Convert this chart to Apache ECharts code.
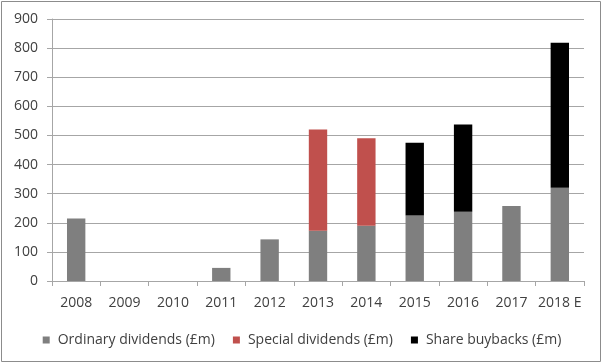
<!DOCTYPE html>
<html><head><meta charset="utf-8">
<script src="https://cdn.jsdelivr.net/npm/echarts@6/dist/echarts.min.js"></script>
<style>html,body{margin:0;padding:0;background:#fff}#c{width:604px;height:364px}</style>
</head><body><div id="c"></div>
<script>
var categories = ['2008','2009','2010','2011','2012','2013','2014','2015','2016','2017','2018 E'];
var ordinary = [215, 0, 0, 45, 143, 173, 190, 225, 238, 258, 320];
var special = [0, 0, 0, 0, 0, 347, 300, 0, 0, 0, 0];
var buybacks = [0, 0, 0, 0, 0, 0, 0, 250, 300, 0, 498];
var yTicks = [0, 100, 200, 300, 400, 500, 600, 700, 800, 900];

var font = '"Open Sans", sans-serif';
var chart = echarts.init(document.getElementById('c'), null, {renderer: 'canvas'});
chart.setOption({
  animation: false,
  backgroundColor: '#fff',
  graphic: [{type: 'rect', shape: {x: 1.5, y: 1.5, width: 599, height: 360}, style: {fill: 'none', stroke: '#8c8c8c', lineWidth: 1}, silent: true}],
  grid: {left: 52, right: 20, top: 19, bottom: 83, containLabel: false},
  legend: {
    bottom: 12, left: 'center', itemWidth: 7, itemHeight: 7, itemGap: 18, icon: 'rect',
    textStyle: {fontFamily: font, fontSize: 14, color: '#404040', padding: [0, 0, 0, 3]},
    data: ['Ordinary dividends (£m)', 'Special dividends (£m)', 'Share buybacks (£m)']
  },
  xAxis: {
    type: 'category', data: categories,
    axisLine: {lineStyle: {color: '#a6a6a6', width: 1}},
    axisTick: {show: true, length: 5, lineStyle: {color: '#a6a6a6'}},
    axisLabel: {fontFamily: font, fontSize: 14, color: '#404040', margin: 15, interval: 0}
  },
  yAxis: {
    type: 'value', min: yTicks[0], max: yTicks[yTicks.length - 1], interval: 100,
    axisLine: {show: true, lineStyle: {color: '#a6a6a6', width: 1}},
    axisTick: {show: true, length: 5, lineStyle: {color: '#a6a6a6'}},
    splitLine: {lineStyle: {color: '#a6a6a6', width: 1}},
    axisLabel: {fontFamily: font, fontSize: 14, color: '#404040', margin: 14}
  },
  series: [
    {name: 'Ordinary dividends (£m)', type: 'bar', stack: 's', data: ordinary, barWidth: '38%', itemStyle: {color: '#7f7f7f'}},
    {name: 'Special dividends (£m)', type: 'bar', stack: 's', data: special, itemStyle: {color: '#c0504d'}},
    {name: 'Share buybacks (£m)', type: 'bar', stack: 's', data: buybacks, itemStyle: {color: '#000000'}}
  ]
});
</script></body></html>
